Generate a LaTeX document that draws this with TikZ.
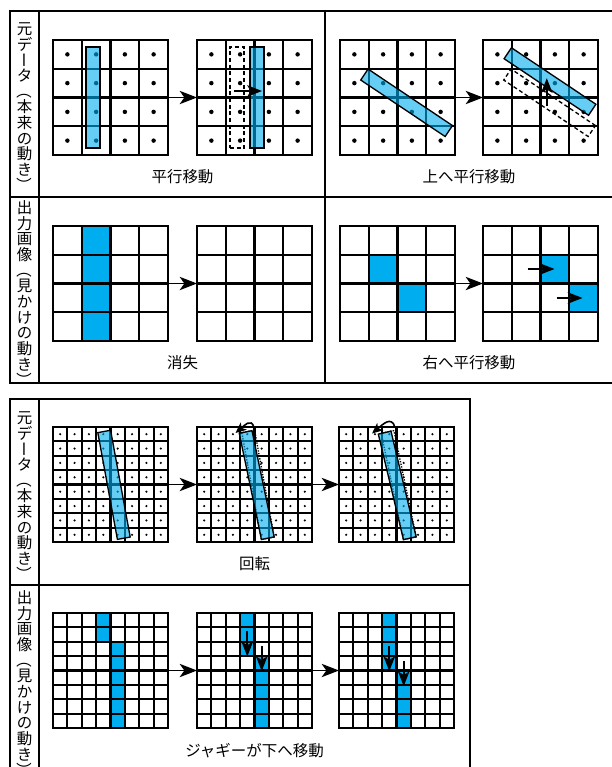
\documentclass[tikz,border=0pt]{standalone}
\usepackage{fontspec}
\newfontfamily\jp{Noto Sans CJK JP}
\usepackage{tikz}
\usetikzlibrary{positioning,calc,arrows.meta}
\definecolor{pixcyan}{RGB}{0,174,239}

\begin{document}
\begin{tikzpicture}[x=0.75pt,y=-0.75pt,
  gridbox/.style={minimum size=86.25pt,inner sep=0pt,outer sep=0pt},
  gridline/.style={line width=1.6pt,line cap=rect},
  frame/.style={line width=1.5pt},
  pixel/.style={fill=pixcyan},
  bar/.style={draw,line width=1pt,fill=pixcyan,fill opacity=0.6,inner sep=0pt,outer sep=0pt},
  oldbar/.style={draw,line width=1pt,inner sep=0pt,outer sep=0pt},
  flow/.style={line width=1.1pt,-{Stealth[length=13pt,width=10pt,inset=3.5pt]}},
  move/.style={line width=1.5pt,-{Stealth[length=11pt,width=8.5pt,inset=2.5pt]}},
  turn/.style={line width=1.2pt,-{Stealth[length=8pt,width=7pt,inset=2pt]}},
  caption/.style={font=\jp\fontsize{11.6pt}{14pt}\selectfont,inner sep=0pt,text height=10.2pt,text depth=1.4pt}
]
  \useasboundingbox (0,0) rectangle (611,767);

  \draw[frame] (10,11) rectangle (613,383);
  \draw[frame] (39,11) -- (39,383);
  \draw[frame] (325,11) -- (325,383);
  \draw[frame] (10,197) -- (613,197);
  \draw[frame] (10,399) rectangle (470,770);
  \draw[frame] (39,399) -- (39,770);
  \draw[frame] (10,585) -- (470,585);

  \foreach \y/\nm in {28.5/va,417.5/vc}
    \foreach \ch/\rot [count=\k from 0] in {元/0,デ/0,ー/-90,タ/0,（/-90,本/0,来/0,の/0,動/0,き/0,）/-90}
      \node[caption,rotate=\rot] (\nm\k) at (24.5,{\y+15.7*\k}) {\ch};
  \foreach \y/\nm in {207.5/vb,597.5/vd}
    \foreach \ch/\rot [count=\k from 0] in {出/0,力/0,画/0,像/0,（/-90,見/0,か/0,け/0,の/0,動/0,き/0,）/-90}
      \node[caption,rotate=\rot] (\nm\k) at (24.5,{\y+15.7*\k}) {\ch};

  \node[gridbox] (a1) at (110.5,97.5) {};
  \node[gridbox,right=21.75pt of a1] (a2) {};
  \node[gridbox] (b1) at (397.5,97.5) {};
  \node[gridbox,right=21pt of b1] (b2) {};
  \node[gridbox,below=53.25pt of a1] (c1) {};
  \node[gridbox,right=21.75pt of c1] (c2) {};
  \node[gridbox,below=53.25pt of b1] (d1) {};
  \node[gridbox,right=21pt of d1] (d2) {};
  \node[gridbox] (r1) at (110.5,484.5) {};
  \node[gridbox,right=21.75pt of r1] (r2) {};
  \node[gridbox,right=20.25pt of r2] (r3) {};
  \node[gridbox,below=53.25pt of r1] (j1) {};
  \node[gridbox,right=21.75pt of j1] (j2) {};
  \node[gridbox,right=20.25pt of j2] (j3) {};

  \foreach \g/\cx/\cy/\w/\h in {c1/28.75/0/28.75/115, d1/28.75/28.75/28.75/28.75, d1/57.5/57.5/28.75/28.75,
      d2/57.5/28.75/28.75/28.75, d2/86.25/57.5/28.75/28.75,
      j1/43.125/0/14.375/28.75, j1/57.5/28.75/14.375/86.25,
      j2/43.125/0/14.375/43.125, j2/57.5/43.125/14.375/71.875,
      j3/43.125/0/14.375/57.5, j3/57.5/57.5/14.375/57.5}
    \fill[pixel] ($(\g.north west)+(\cx,\cy)$) rectangle ++(\w,\h);

  \foreach \g/\n/\rad in {a1/4/2.2,a2/4/2.2,b1/4/2.2,b2/4/2.2,r1/8/1.2,r2/8/1.2,r3/8/1.2}
    \foreach \i in {1,...,\n}
      \foreach \k in {1,...,\n}
        \fill ($(\g.north west)+({(\i-0.5)*115/\n},{(\k-0.5)*115/\n})$) circle (\rad);

  \foreach \g/\n in {a1/4,a2/4,b1/4,b2/4,c1/4,c2/4,d1/4,d2/4,r1/8,r2/8,r3/8,j1/8,j2/8,j3/8}
    \foreach \i in {0,...,\n} {
      \draw[gridline] ($(\g.north west)!\i/\n!(\g.north east)$) -- ($(\g.south west)!\i/\n!(\g.south east)$);
      \draw[gridline] ($(\g.north west)!\i/\n!(\g.south west)$) -- ($(\g.north east)!\i/\n!(\g.south east)$);
    }

  \node[bar,minimum width=10.5pt,minimum height=75.75pt] (p1) at ($(a1.center)+(-17.5,0)$) {};
  \node[oldbar,densely dashed,minimum width=10.5pt,minimum height=75.75pt] (p2) at ($(a2.center)+(-17.5,0)$) {};
  \node[bar,minimum width=10.5pt,minimum height=75.75pt] (p3) at ($(a2.center)+(2.5,0)$) {};
  \coordinate (m1s) at ($(a2.center)+(-20.5,-6.5)$);
  \coordinate (m1e) at ($(a2.center)+(7.5,-6.5)$);
  \draw[move] (m1s) -- (m1e);

  \node[bar,minimum width=76.2pt,minimum height=9.9pt,rotate=-33.8] (q1) at ($(b1.center)+(9.1,5.3)$) {};
  \node[oldbar,densely dashed,minimum width=76.2pt,minimum height=9.9pt,rotate=-33.8] (q2) at ($(b2.center)+(9.1,5.3)$) {};
  \node[bar,minimum width=76.2pt,minimum height=9.9pt,rotate=-33.8] (q3) at ($(b2.center)+(9.5,-16)$) {};
  \coordinate (m2s) at ($(b2.center)+(6.3,8.5)$);
  \coordinate (m2e) at ($(b2.center)+(6.3,-19.3)$);
  \draw[move] (m2s) -- (m2e);

  \coordinate (m3s) at ($(d2.center)+(-13,-14.5)$);
  \coordinate (m3e) at ($(d2.center)+(14,-14.5)$);
  \coordinate (m4s) at ($(d2.center)+(16,14.5)$);
  \coordinate (m4e) at ($(d2.center)+(42,14.5)$);
  \draw[move] (m3s) -- (m3e);
  \draw[move] (m4s) -- (m4e);

  \node[bar,minimum width=9.75pt,minimum height=81.4pt,rotate=10.4,anchor=south] (s1) at ($(r1.north west)+(70.8,111.2)$) {};
  \node[oldbar,densely dotted,minimum width=9.75pt,minimum height=81.4pt,rotate=10.4,anchor=south] (s2) at ($(r2.north west)+(70.8,111.2)$) {};
  \node[bar,minimum width=9.75pt,minimum height=81.4pt,rotate=11.8,anchor=south] (s3) at ($(r2.north west)+(70.8,111.2)$) {};
  \node[oldbar,densely dotted,minimum width=9.75pt,minimum height=81.4pt,rotate=11.8,anchor=south] (s4) at ($(r3.north west)+(70.8,111.2)$) {};
  \node[bar,minimum width=9.75pt,minimum height=81.4pt,rotate=13.4,anchor=south] (s5) at ($(r3.north west)+(70.8,111.2)$) {};
  \coordinate (t1s) at ($(r2.center)+(-0.5,-57)$);
  \coordinate (t1e) at ($(r2.center)+(-19,-51.5)$);
  \coordinate (t2s) at ($(r3.center)+(-1.5,-57)$);
  \coordinate (t2e) at ($(r3.center)+(-24.5,-51)$);
  \draw[turn] (t1s) to[out=105,in=40,looseness=1.4] (t1e);
  \draw[turn] (t2s) to[out=105,in=40,looseness=1.4] (t2e);

  \coordinate (m5s) at ($(j2.center)+(-7.2,-39.3)$);
  \coordinate (m5e) at ($(j2.center)+(-7.2,-14)$);
  \coordinate (m6s) at ($(j2.center)+(7.2,-24.3)$);
  \coordinate (m6e) at ($(j2.center)+(7.2,0.7)$);
  \coordinate (m7s) at ($(j3.center)+(-7.2,-24.3)$);
  \coordinate (m7e) at ($(j3.center)+(-7.2,0.7)$);
  \coordinate (m8s) at ($(j3.center)+(7.2,-9.3)$);
  \coordinate (m8e) at ($(j3.center)+(7.2,15.7)$);
  \draw[move] (m5s) -- (m5e);
  \draw[move] (m6s) -- (m6e);
  \draw[move] (m7s) -- (m7e);
  \draw[move] (m8s) -- (m8e);

  \draw[flow] (a1) -- (a2);
  \draw[flow] (b1) -- (b2);
  \draw[flow] (c1) -- (c2);
  \draw[flow] (d1) -- (d2);
  \draw[flow] (r1) -- (r2);
  \draw[flow] (r2) -- (r3);
  \draw[flow] (j1) -- (j2);
  \draw[flow] (j2) -- (j3);

  \node[caption] (capA) at ($(a1.south)!0.5!(a2.south)+(0,22)$) {平行移動};
  \node[caption] (capB) at ($(b1.south)!0.5!(b2.south)+(0,22)$) {上へ平行移動};
  \node[caption] (capC) at ($(c1.south)!0.5!(c2.south)+(0,22)$) {消失};
  \node[caption] (capD) at ($(d1.south)!0.5!(d2.south)+(0,22)$) {右へ平行移動};
  \node[caption] (capE) at ($(r2.south)+(0,22)$) {回転};
  \node[caption] (capF) at ($(j2.south)+(0,23)$) {ジャギーが下へ移動};
\end{tikzpicture}
\end{document}
